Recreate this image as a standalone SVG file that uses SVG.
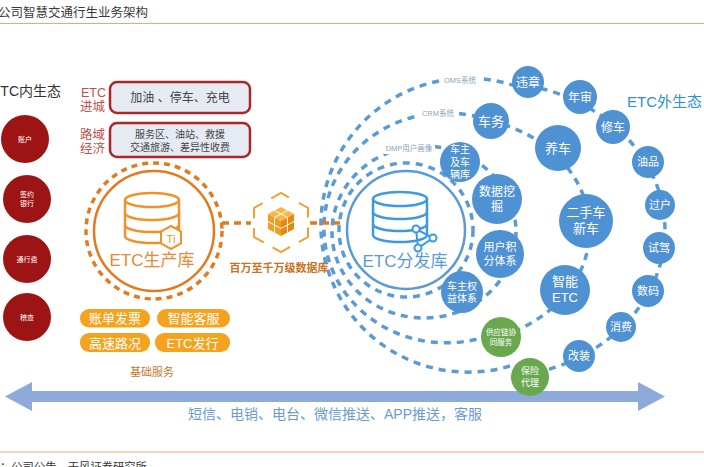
<svg xmlns="http://www.w3.org/2000/svg" width="704" height="467" viewBox="0 0 704 467">
<style>
text{font-family:"Liberation Sans","Noto Sans CJK SC",sans-serif;}
.w{fill:#fff;text-anchor:middle;}
.bc{fill:#4f92d3;}
.gc{fill:#6aa84f;}
.rc{fill:#9c1414;}
.arc{fill:none;stroke:#5b9bd5;stroke-width:3.5;stroke-dasharray:7 6;}
.lbl{fill:#8aa2bd;font-size:7.5px;text-anchor:middle;}
.pill{fill:#f5a31e;}
.pt{fill:#fff;font-size:13px;text-anchor:middle;}
.box{fill:#e6ebf3;stroke:#a8282a;stroke-width:2.5;}
.red{fill:#c0504d;font-size:12.5px;}
.bt{fill:#444;text-anchor:middle;}
</style>
<rect width="704" height="467" fill="#fff"/>
<!-- header / footer -->
<text x="-2" y="17" font-size="12.5" fill="#3a3a3a">公司智慧交通行生业务架构</text>
<line x1="0" y1="23.5" x2="704" y2="23.5" stroke="#f5a56a" stroke-width="1.2"/>
<line x1="0" y1="452" x2="704" y2="452" stroke="#f5a56a" stroke-width="1.2"/>
<text x="0" y="470.5" font-size="11.3" fill="#333">：公司公告，天风证券研究所</text>

<!-- connectors -->
<g id="connectors">
  <path class="arc" d="M528,91 A147 147 0 1 0 510 366"/>
  <path class="arc" d="M528,85.5 A175 148 0 0 1 510 377"/>
  <path class="arc" d="M491,121 A122 115 0 1 0 481 338"/>
  <path class="arc" d="M491,121 A135 113 0 0 1 501 336"/>
  <ellipse class="arc" cx="424" cy="232" rx="92" ry="86"/>
  <circle class="arc" cx="406" cy="230" r="67" stroke-dasharray="6 5"/>
  <line x1="222" y1="223" x2="251" y2="223" stroke="#e07b20" stroke-width="3.5" stroke-dasharray="7 5"/>
  <line x1="310" y1="223" x2="340" y2="223" stroke="#e07b20" stroke-width="3.5" stroke-dasharray="7 5"/>
  <polygon points="5,396.5 32,382 32,391 638,391 638,382 665,396.5 638,411 638,402 32,402 32,411" fill="#8eaadb"/>
</g>

<!-- arc labels -->
<g id="arc-labels">
  <rect x="441" y="74" width="38" height="12" fill="#fff"/>
  <text class="lbl" x="460" y="83">OMS系统</text>
  <rect x="420" y="107" width="37" height="12" fill="#fff"/>
  <text class="lbl" x="438" y="116">CRM系统</text>
  <rect x="383" y="142" width="52" height="12" fill="#fff"/>
  <text class="lbl" x="409" y="151">DMP用户画像</text>
</g>

<!-- ETC inner ecosystem -->
<text x="-9" y="96" font-size="14" fill="#333">ETC内生态</text>
<g id="n-zhanghu"><circle class="rc" cx="25" cy="139" r="24"/><text class="w" x="25" y="141.5" font-size="7">账户</text></g>
<g id="n-qianyue"><circle class="rc" cx="27" cy="199" r="24"/><text class="w" x="27" y="197" font-size="7">签约</text><text class="w" x="27" y="206" font-size="7">银行</text></g>
<g id="n-tongxing"><circle class="rc" cx="27" cy="259" r="24"/><text class="w" x="27" y="261.5" font-size="7">通行费</text></g>
<g id="n-jicha"><circle class="rc" cx="27" cy="317" r="24"/><text class="w" x="27" y="319.5" font-size="7">稽查</text></g>

<g id="n-jincheng">
  <text class="red" x="81" y="97">ETC</text>
  <text class="red" x="80" y="111">进城</text>
  <rect class="box" x="110" y="82" width="140" height="31" rx="7"/>
  <text class="bt" x="180" y="101.5" font-size="12">加油 、停车、充电</text>
</g>
<g id="n-luyu">
  <text class="red" x="80" y="139">路域</text>
  <text class="red" x="80" y="153">经济</text>
  <rect class="box" x="110" y="123" width="140" height="34" rx="7"/>
  <text class="bt" x="180" y="138" font-size="10">服务区、油站、救援</text>
  <text class="bt" x="180" y="151" font-size="10">交通旅游、差异性收费</text>
</g>

<!-- ETC production DB -->
<g id="n-shengchan">
  <circle cx="154" cy="231" r="68" fill="none" stroke="#e07b20" stroke-width="3.5" stroke-dasharray="6 5"/>
  <circle cx="154" cy="231" r="60" fill="#fff" stroke="#e07b20" stroke-width="2.5"/>
  <g fill="none" stroke="#f0922a" stroke-width="2.5">
    <ellipse cx="152" cy="200" rx="27" ry="7"/>
    <path d="M125 200 V236 A27 7 0 0 0 179 236 V200"/>
    <path d="M125 213 A27 7 0 0 0 179 213"/>
    <path d="M125 225 A27 7 0 0 0 179 225"/>
  </g>
  <polygon points="171,226 181,231.5 181,243.5 171,249 161,243.5 161,231.5" fill="#fff" stroke="#f0922a" stroke-width="2"/>
  <text x="171" y="243" font-size="11" fill="#f0922a" text-anchor="middle">Ti</text>
  <text x="152" y="266" font-size="17" fill="#e8892f" text-anchor="middle">ETC生产库</text>
</g>

<!-- base services -->
<g id="n-services">
  <rect class="pill" x="80" y="309" width="70" height="18.5" rx="9"/><text class="pt" x="115" y="323">账单发票</text>
  <rect class="pill" x="157" y="309" width="73" height="18.5" rx="9"/><text class="pt" x="193.5" y="323">智能客服</text>
  <rect class="pill" x="80" y="333" width="70" height="19" rx="9"/><text class="pt" x="115" y="347.5">高速路况</text>
  <rect class="pill" x="155" y="333" width="75" height="19" rx="9"/><text class="pt" x="192.5" y="347.5">ETC发行</text>
  <text x="152" y="376" font-size="11" fill="#c47a2c" text-anchor="middle">基础服务</text>
</g>

<!-- hexagon data hub -->
<g id="n-hub">
  <path d="M294.5,200.5 L308,208 L308,237 L281,252 L254,237 L254,208 L281,193 Z" fill="none" stroke="#f0a030" stroke-width="2" stroke-dasharray="20 10" stroke-dashoffset="25"/>
  <polygon points="281,207 294,214 281,221 268,214" fill="#f8b54a"/>
  <polygon points="268,214 281,221 281,236 268,229" fill="#f39c1f"/>
  <polygon points="281,221 294,214 294,229 281,236" fill="#e8870f"/>
  <g stroke="#fff" stroke-width="1" fill="none">
    <line x1="287.5" y1="210.5" x2="274.5" y2="217.5"/>
    <line x1="274.5" y1="210.5" x2="287.5" y2="217.5"/>
    <line x1="274.5" y1="217.5" x2="274.5" y2="232.5"/>
    <line x1="268" y1="221.5" x2="281" y2="228.5"/>
    <line x1="287.5" y1="217.5" x2="287.5" y2="232.5"/>
    <line x1="281" y1="228.5" x2="294" y2="221.5"/>
  </g>
  <text x="279" y="272" font-size="11" font-weight="bold" fill="#c8731e" text-anchor="middle">百万至千万级数据库</text>
</g>

<!-- ETC distribution DB -->
<g id="n-fenfa">
  <circle cx="406" cy="230" r="59" fill="#fff" stroke="#5b9bd5" stroke-width="2.5"/>
  <g fill="none" stroke="#3c9ae0" stroke-width="2.5">
    <ellipse cx="400" cy="199" rx="27" ry="7"/>
    <path d="M373 199 V235 A27 7 0 0 0 427 235 V199"/>
    <path d="M373 212 A27 7 0 0 0 427 212"/>
    <path d="M373 224 A27 7 0 0 0 427 224"/>
  </g>
  <g stroke="#3c9ae0" stroke-width="2" fill="#fff">
    <polyline points="416,229 433,238 418,248 416,229" fill="none"/>
    <circle cx="416" cy="229" r="3.5"/>
    <circle cx="433" cy="238" r="3.5"/>
    <circle cx="418" cy="248" r="3.5"/>
  </g>
  <text x="405" y="267" font-size="17" fill="#5b9bd5" text-anchor="middle">ETC分发库</text>
</g>

<text x="627" y="107" font-size="15" fill="#2f8fd4">ETC外生态</text>

<!-- outer chain -->
<g id="n-weizhang"><circle class="bc" cx="528" cy="82" r="16"/><text class="w" x="528" y="86.5" font-size="12">违章</text></g>
<g id="n-nianshen"><circle class="bc" cx="580" cy="97" r="17"/><text class="w" x="580" y="101.5" font-size="12">年审</text></g>
<g id="n-xiuche"><circle class="bc" cx="613" cy="127" r="17"/><text class="w" x="613" y="131.5" font-size="12">修车</text></g>
<g id="n-youpin"><circle class="bc" cx="648" cy="162" r="16"/><text class="w" x="648" y="166" font-size="11">油品</text></g>
<g id="n-guohu"><circle class="bc" cx="660" cy="205" r="15"/><text class="w" x="660" y="209" font-size="11">过户</text></g>
<g id="n-shijia"><circle class="bc" cx="659" cy="248" r="16"/><text class="w" x="659" y="252" font-size="11">试驾</text></g>
<g id="n-shuma"><circle class="bc" cx="648" cy="291" r="16"/><text class="w" x="648" y="295" font-size="11">数码</text></g>
<g id="n-xiaofei"><circle class="bc" cx="621" cy="327" r="15"/><text class="w" x="621" y="331" font-size="11">消费</text></g>
<g id="n-gaizhuang"><circle class="bc" cx="579" cy="356" r="16"/><text class="w" x="579" y="360" font-size="11">改装</text></g>
<g id="n-baoxian"><circle class="gc" cx="530" cy="377" r="19"/><text class="w" x="530" y="374" font-size="9">保险</text><text class="w" x="530" y="386" font-size="9">代理</text></g>

<!-- CRM chain -->
<g id="n-chewu"><circle class="bc" cx="491" cy="121" r="18"/><text class="w" x="491" y="125.5" font-size="13">车务</text></g>
<g id="n-yangche"><circle class="bc" cx="558" cy="148" r="23"/><text class="w" x="558" y="152.5" font-size="13">养车</text></g>
<g id="n-ershou"><circle class="bc" cx="586" cy="221" r="27"/><text class="w" x="586" y="217" font-size="13">二手车</text><text class="w" x="586" y="233" font-size="13">新车</text></g>
<g id="n-zhineng"><circle class="bc" cx="565" cy="290" r="25"/><text class="w" x="565" y="286" font-size="13">智能</text><text class="w" x="565" y="302" font-size="13">ETC</text></g>
<g id="n-gongying"><circle class="gc" cx="501" cy="337" r="20"/><text class="w" x="501" y="334.5" font-size="7.5">供应链协</text><text class="w" x="501" y="345" font-size="7.5">同服务</text></g>

<!-- DMP chain -->
<g id="n-chezhu"><circle class="bc" cx="460" cy="162" r="20"/><text class="w" x="460" y="153" font-size="10">车主</text><text class="w" x="460" y="165.5" font-size="10">及车</text><text class="w" x="460" y="178" font-size="10">辆库</text></g>
<g id="n-shuju"><circle class="bc" cx="497" cy="199" r="25"/><text class="w" x="497" y="196" font-size="12">数据挖</text><text class="w" x="497" y="211" font-size="12">掘</text></g>
<g id="n-jifen"><circle class="bc" cx="500" cy="254" r="24"/><text class="w" x="500" y="251" font-size="11">用户积</text><text class="w" x="500" y="265" font-size="11">分体系</text></g>
<g id="n-quanyi"><circle class="bc" cx="462" cy="292" r="21"/><text class="w" x="462" y="289.5" font-size="10">车主权</text><text class="w" x="462" y="302" font-size="10">益体系</text></g>

<text x="335" y="419" font-size="14" fill="#6a9bd0" text-anchor="middle">短信、电销、电台、微信推送、APP推送，客服</text>
</svg>
